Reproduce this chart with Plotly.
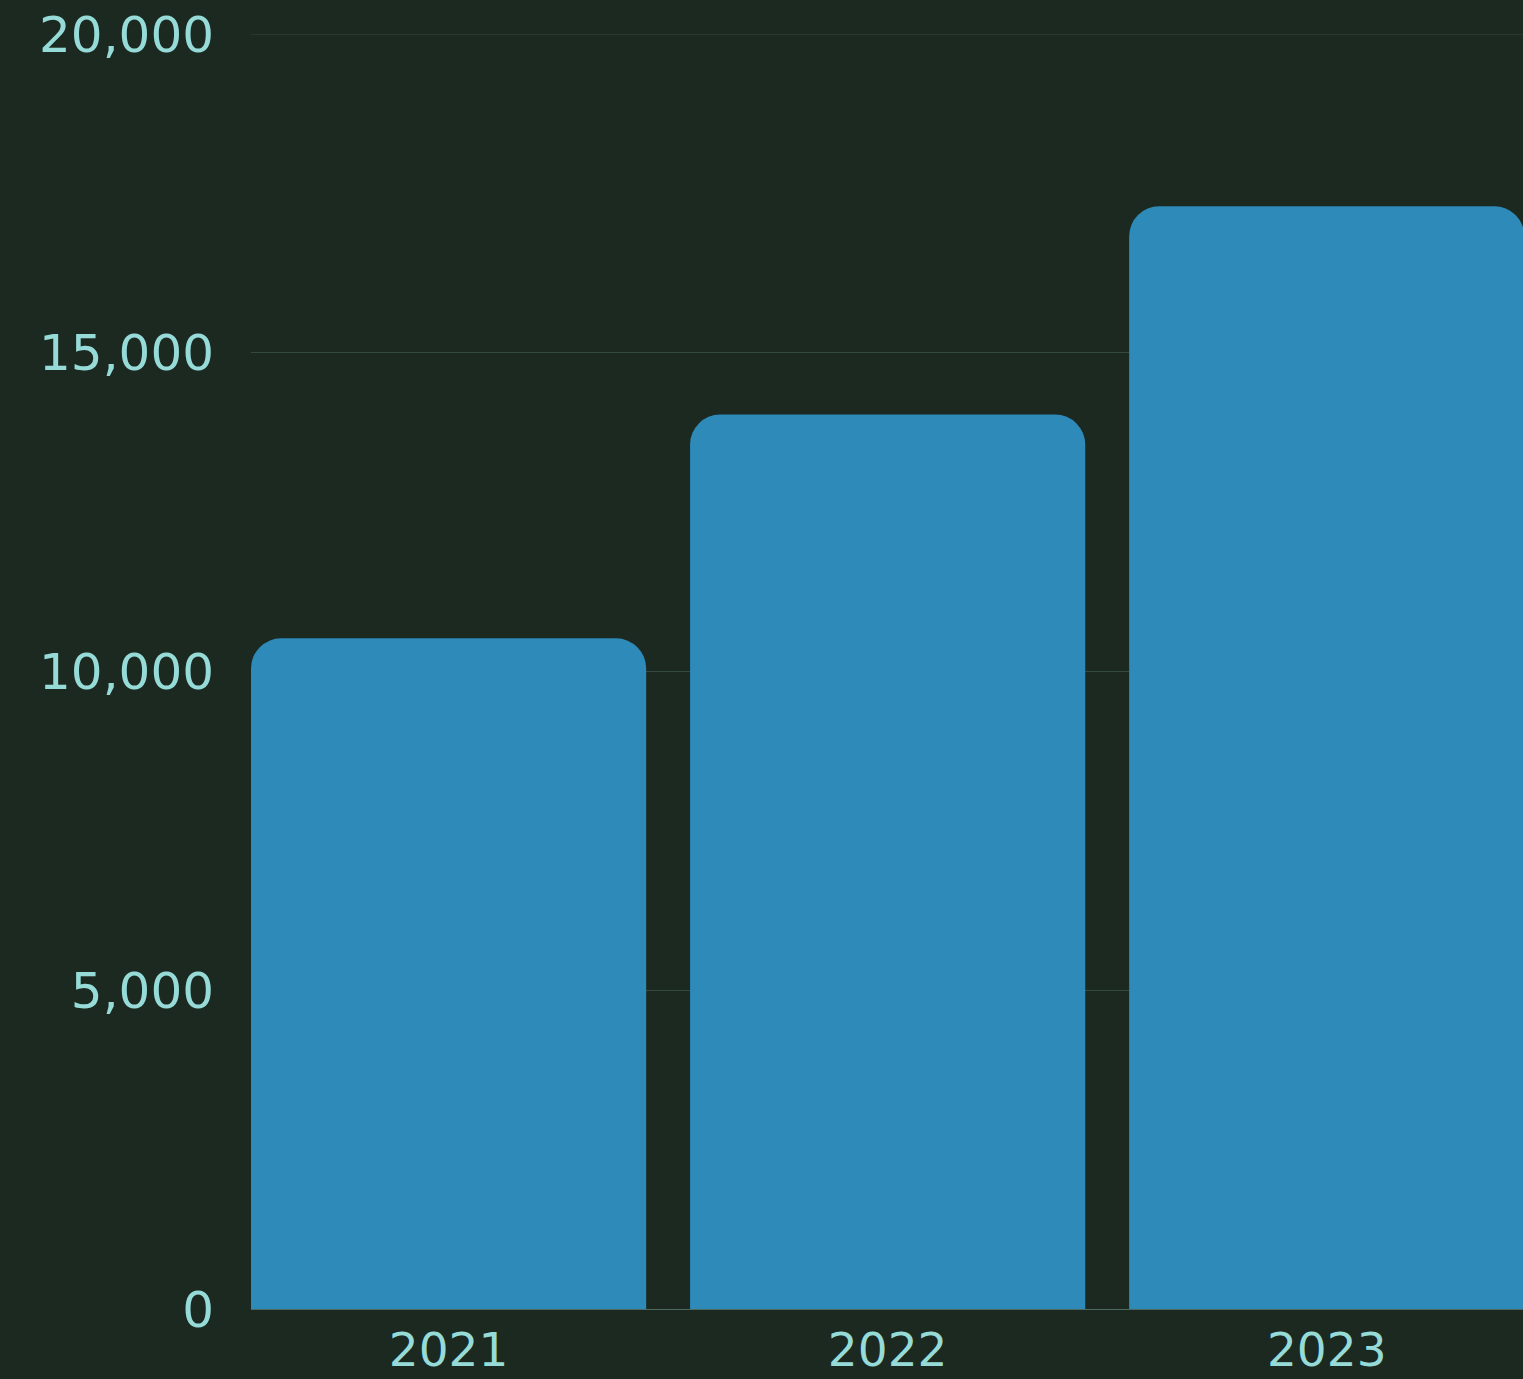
import plotly.graph_objects as go

years = ["2021", "2022", "2023"]
values = [10520, 14030, 17300]
y_ticks = [0, 5000, 10000, 15000, 20000]
y_tick_labels = ["0", "5,000", "10,000", "15,000", "20,000"]

BG = "#1b2920"
BAR = "#2d8ab9"
TXT = "#96dbd8"
GRID = "#34493f"

fig = go.Figure(go.Bar(
    x=years, y=values,
    marker=dict(color=BAR, cornerradius=30, line=dict(width=0)),
    hoverinfo="skip",
))

fig.update_layout(
    width=1523, height=1379,
    margin=dict(l=251, r=0, t=34, b=70, autoexpand=False),
    paper_bgcolor=BG, plot_bgcolor=BG,
    bargap=0.1,
    showlegend=False,
    font=dict(family="DejaVu Sans", size=50, color=TXT),
)
# top gridline (plotly drops the grid line lying on the plot edge)
fig.add_shape(type="line", xref="paper", x0=0, x1=1, yref="y",
              y0=y_ticks[-1], y1=y_ticks[-1], layer="below",
              line=dict(color=GRID, width=1))
fig.update_xaxes(
    type="category", range=[-0.45, 2.447], automargin=False,
    showgrid=False, showline=True, linecolor="#4d6a60", linewidth=1,
    ticks="", ticklabelstandoff=0,
    tickfont=dict(family="DejaVu Sans", size=47, color=TXT),
)
fig.update_yaxes(
    range=[0, 20000], tickvals=y_ticks, ticktext=y_tick_labels, automargin=False,
    showgrid=True, gridcolor=GRID, gridwidth=1,
    zeroline=False, showline=False, ticks="",
    ticklabelstandoff=36,
    tickfont=dict(family="DejaVu Sans", size=50, color=TXT),
)

fig.write_html(
    "out.html",
    config={"displayModeBar": False},
    post_script="document.body.style.margin='0';document.body.style.overflow='hidden';"
                "document.body.style.background='" + BG + "';",
)
